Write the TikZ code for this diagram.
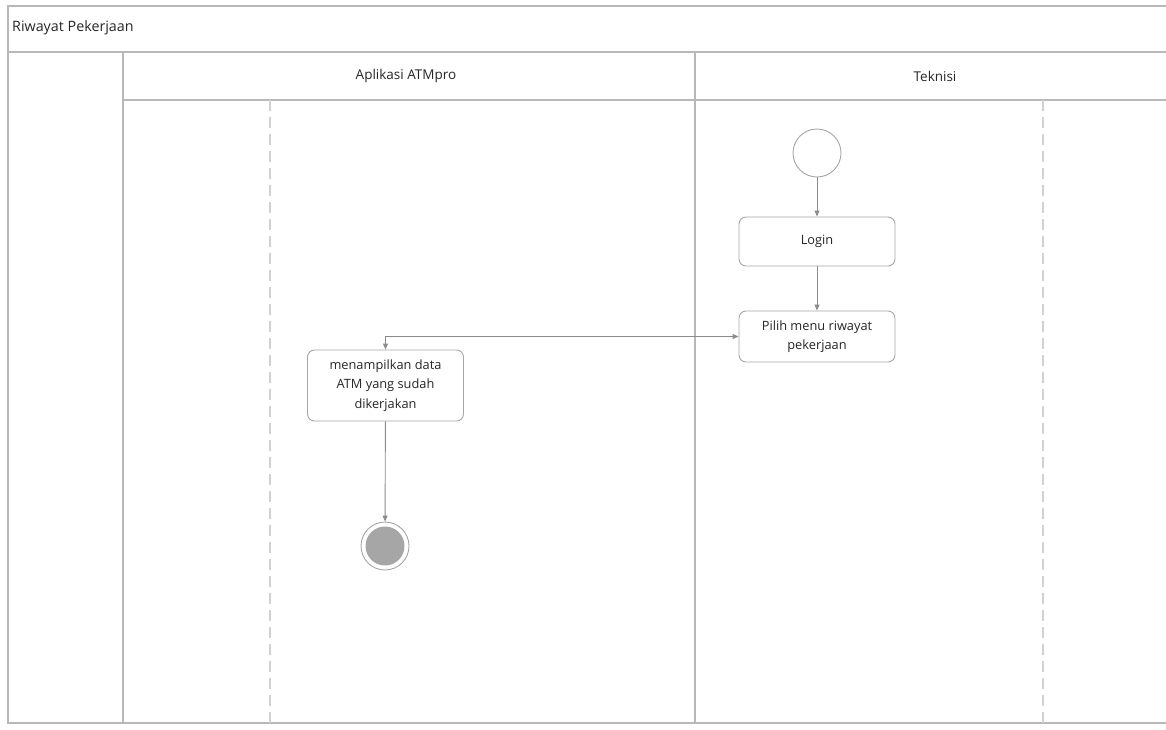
\documentclass[tikz,border=0pt]{standalone}
\usepackage{fontspec}
\setmainfont{Open Sans}
\usetikzlibrary{arrows.meta}
\begin{document}
\begin{tikzpicture}[x=1pt,y=-1pt,
  frame/.style={draw=black!28,line width=1.2pt},
  lanesep/.style={draw=black!18,line width=1.2pt,dash pattern=on 11pt off 6pt},
  act/.style={draw=black!35,line width=0.9pt,rounded corners=7pt,fill=white,
    minimum width=156pt,align=center,font=\fontsize{12.8}{19.5}\selectfont,inner sep=3pt,text=black!85},
  flow/.style={draw=black!45,line width=0.9pt,-{Triangle[length=6pt,width=5pt]}},
  lbl/.style={font=\fontsize{13.5}{16}\selectfont,text=black!85}]
\useasboundingbox (0,0) rectangle (1166,729);
% swimlane frame
\draw[frame] (1166,6) -- (8,6) -- (8,723) -- (1166,723);
\draw[frame] (8,52) -- (1166,52);
\draw[frame] (123,100) -- (1166,100);
\draw[frame] (123,52) -- (123,723);
\draw[frame] (695,52) -- (695,723);
\draw[lanesep] (270,100) -- (270,723);
\draw[lanesep] (1043,100) -- (1043,723);
% titles
\node[lbl,anchor=west,inner sep=0pt,font=\fontsize{14.3}{16}\selectfont] (title) at (12,28) {Riwayat Pekerjaan};
\node[lbl] (laneA) at (406,76) {Aplikasi ATMpro};
\node[lbl] (laneB) at (935,76) {Teknisi};
% activity nodes
\node[circle,draw=black!35,line width=0.9pt,minimum size=48pt,inner sep=0pt] (start) at (817,153) {};
\node[act,minimum height=49pt] (login) at (817,241.5) {Login};
\node[act,minimum height=51pt] (menu) at (817,336.5) {Pilih menu riwayat\\pekerjaan};
\node[act,minimum height=71pt] (show) at (385.5,385.5) {menampilkan data\\ATM yang sudah\\dikerjakan};
\node[circle,draw=black!35,line width=0.9pt,minimum size=48pt,inner sep=0pt] (endo) at (385,546) {};
\node[circle,fill=black!35,minimum size=39pt,inner sep=0pt] (endi) at (385,546) {};
% connectors
\draw[flow] (start) -- (login);
\draw[flow] (login) -- (menu);
\draw[flow,{Triangle[length=6pt,width=5pt]}-{Triangle[length=6pt,width=5pt]}] (show.north) |- (menu.west);
\draw[flow] (show) -- (endo);
\end{tikzpicture}
\end{document}
